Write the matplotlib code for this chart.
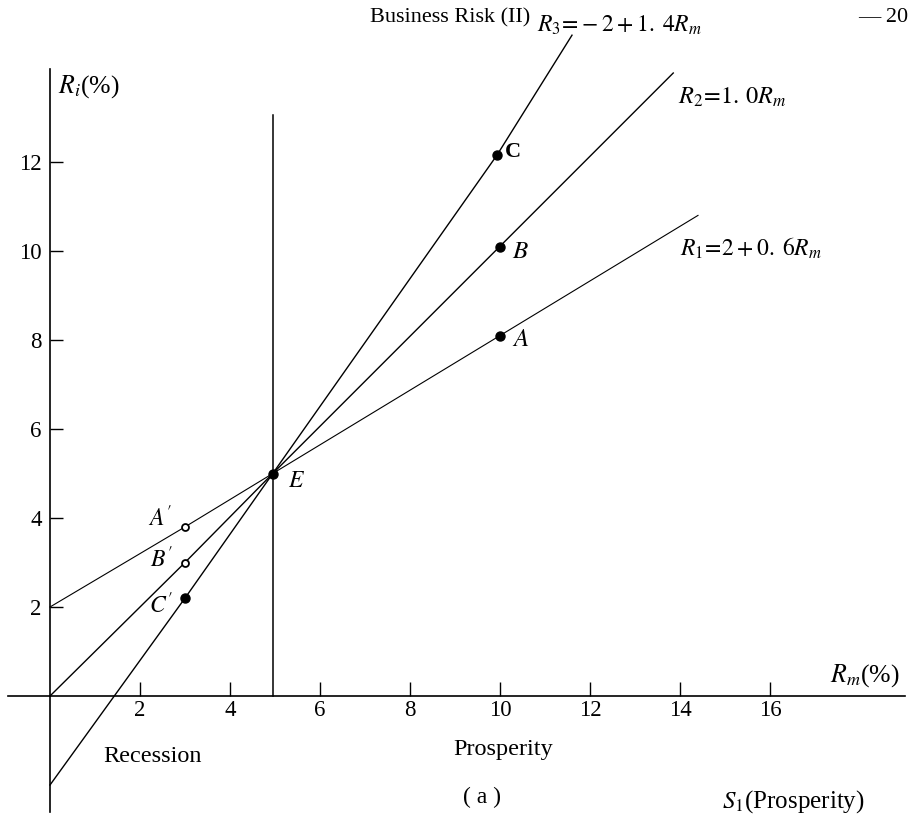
import matplotlib
matplotlib.use("Agg")
import matplotlib.pyplot as plt

# values (Rm on x, Ri on y, both in %)
rm_ticks = [2, 4, 6, 8, 10, 12, 14, 16]
ri_ticks = [2, 4, 6, 8, 10, 12]

# line vertices as drawn in the figure
r1_x = [0, 3.0, 4.95, 14.4]
r1_y = [2.0, 3.8, 5.0, 10.8]
r2_x = [0, 3.0, 4.95, 13.85]
r2_y = [0, 3.0, 5.0, 14.0]
r3_x = [0, 3.0, 4.95, 9.93, 11.6]
r3_y = [-2.0, 2.2, 5.0, 12.15, 14.85]

# divider between recession and prosperity
split_x = 4.95
split_top = 13.05

# marked points
pt_names = ["A", "B", "C", "E", "A'", "B'", "C'"]
pt_x = [10.0, 10.0, 9.93, 4.95, 3.0, 3.0, 3.0]
pt_y = [8.1, 10.1, 12.15, 5.0, 3.8, 3.0, 2.2]
pt_open = [False, False, False, False, True, True, False]

plt.rcParams['font.family'] = ['Liberation Serif', 'DejaVu Serif']
plt.rcParams['mathtext.fontset'] = 'stix'

fig = plt.figure(figsize=(9.09, 8.15), dpi=100)
ax = fig.add_axes([0, 0, 1, 1])
ax.set_xlim(-50 / 45, 859 / 45)
ax.set_ylim(-119 / 44.5, 696 / 44.5)

# axes through the origin
for side in ['top', 'right']:
    ax.spines[side].set_visible(False)
ax.spines['left'].set_position(('data', 0))
ax.spines['bottom'].set_position(('data', 0))
ax.spines['left'].set_bounds(-2.6, 14.1)
ax.spines['bottom'].set_bounds(-0.93, 19.0)
ax.spines['left'].set_linewidth(1.2)
ax.spines['bottom'].set_linewidth(1.2)

ax.set_xticks(rm_ticks)
ax.set_yticks(ri_ticks)
ax.tick_params(axis='x', direction='in', length=10, width=1.0, pad=3, labelsize=16.5)
ax.tick_params(axis='y', direction='in', length=9, width=1.0, pad=6, labelsize=16.5)

# the three return lines and the divider
ax.plot(r1_x, r1_y, color='black', lw=0.8)
ax.plot(r2_x, r2_y, color='black', lw=1.0)
ax.plot(r3_x, r3_y, color='black', lw=1.0)
ax.plot([split_x, split_x], [0, split_top], color='black', lw=1.1)

for name, x, y, hollow in zip(pt_names, pt_x, pt_y, pt_open):
    if hollow:
        ax.plot(x, y, 'o', ms=5, mfc='white', mec='black', mew=1.3, zorder=3)
    else:
        ax.plot(x, y, 'o', ms=6.5, color='black', zorder=3)

# point labels
ax.text(10.11, 12.22, 'C', fontsize=16, fontweight='bold', va='center')
ax.text(10.27, 9.98, '$B$', fontsize=18, va='center')
ax.text(10.27, 8.0, '$A$', fontsize=18, va='center')
ax.text(5.29, 4.81, '$E$', fontsize=17, va='center')
ax.text(2.7, 4.0, "$A'$", fontsize=17, va='center', ha='right')
ax.text(2.72, 3.06, "$B'$", fontsize=17, va='center', ha='right')
ax.text(2.74, 2.04, "$C'$", fontsize=17, va='center', ha='right')

# equations
ax.text(10.82, 15.08, r'$R_3\!=\!-2+1.\;4R_m$', fontsize=17, va='center')
ax.text(13.96, 13.46, r'$R_2\!=\!1.\,0R_m$', fontsize=17.5, va='center')
ax.text(14.0, 10.07, r'$R_1\!=\!2+0.\;6R_m$', fontsize=17, va='center')

# axis titles and captions
ax.text(0.18, 13.69, r'$R_i$(%)', fontsize=18.5, va='center')
ax.text(17.33, 0.45, r'$R_m$(%)', fontsize=18.5, va='center')
ax.text(1.18, -1.37, 'Recession', fontsize=17.5, va='center')
ax.text(10.07, -1.21, 'Prosperity', fontsize=17.5, va='center', ha='center')
ax.text(9.6, -2.27, '( a )', fontsize=17, va='center', ha='center')
ax.text(14.93, -2.38, r'$S_1$(Prosperity)', fontsize=18, va='center')

# running header of the page
ax.text(8.89, 15.24, 'Business Risk (II)', fontsize=16, va='center', ha='center')
ax.text(17.96, 15.24, '— 20', fontsize=16, va='center')

fig.savefig('out.png', dpi=100)
